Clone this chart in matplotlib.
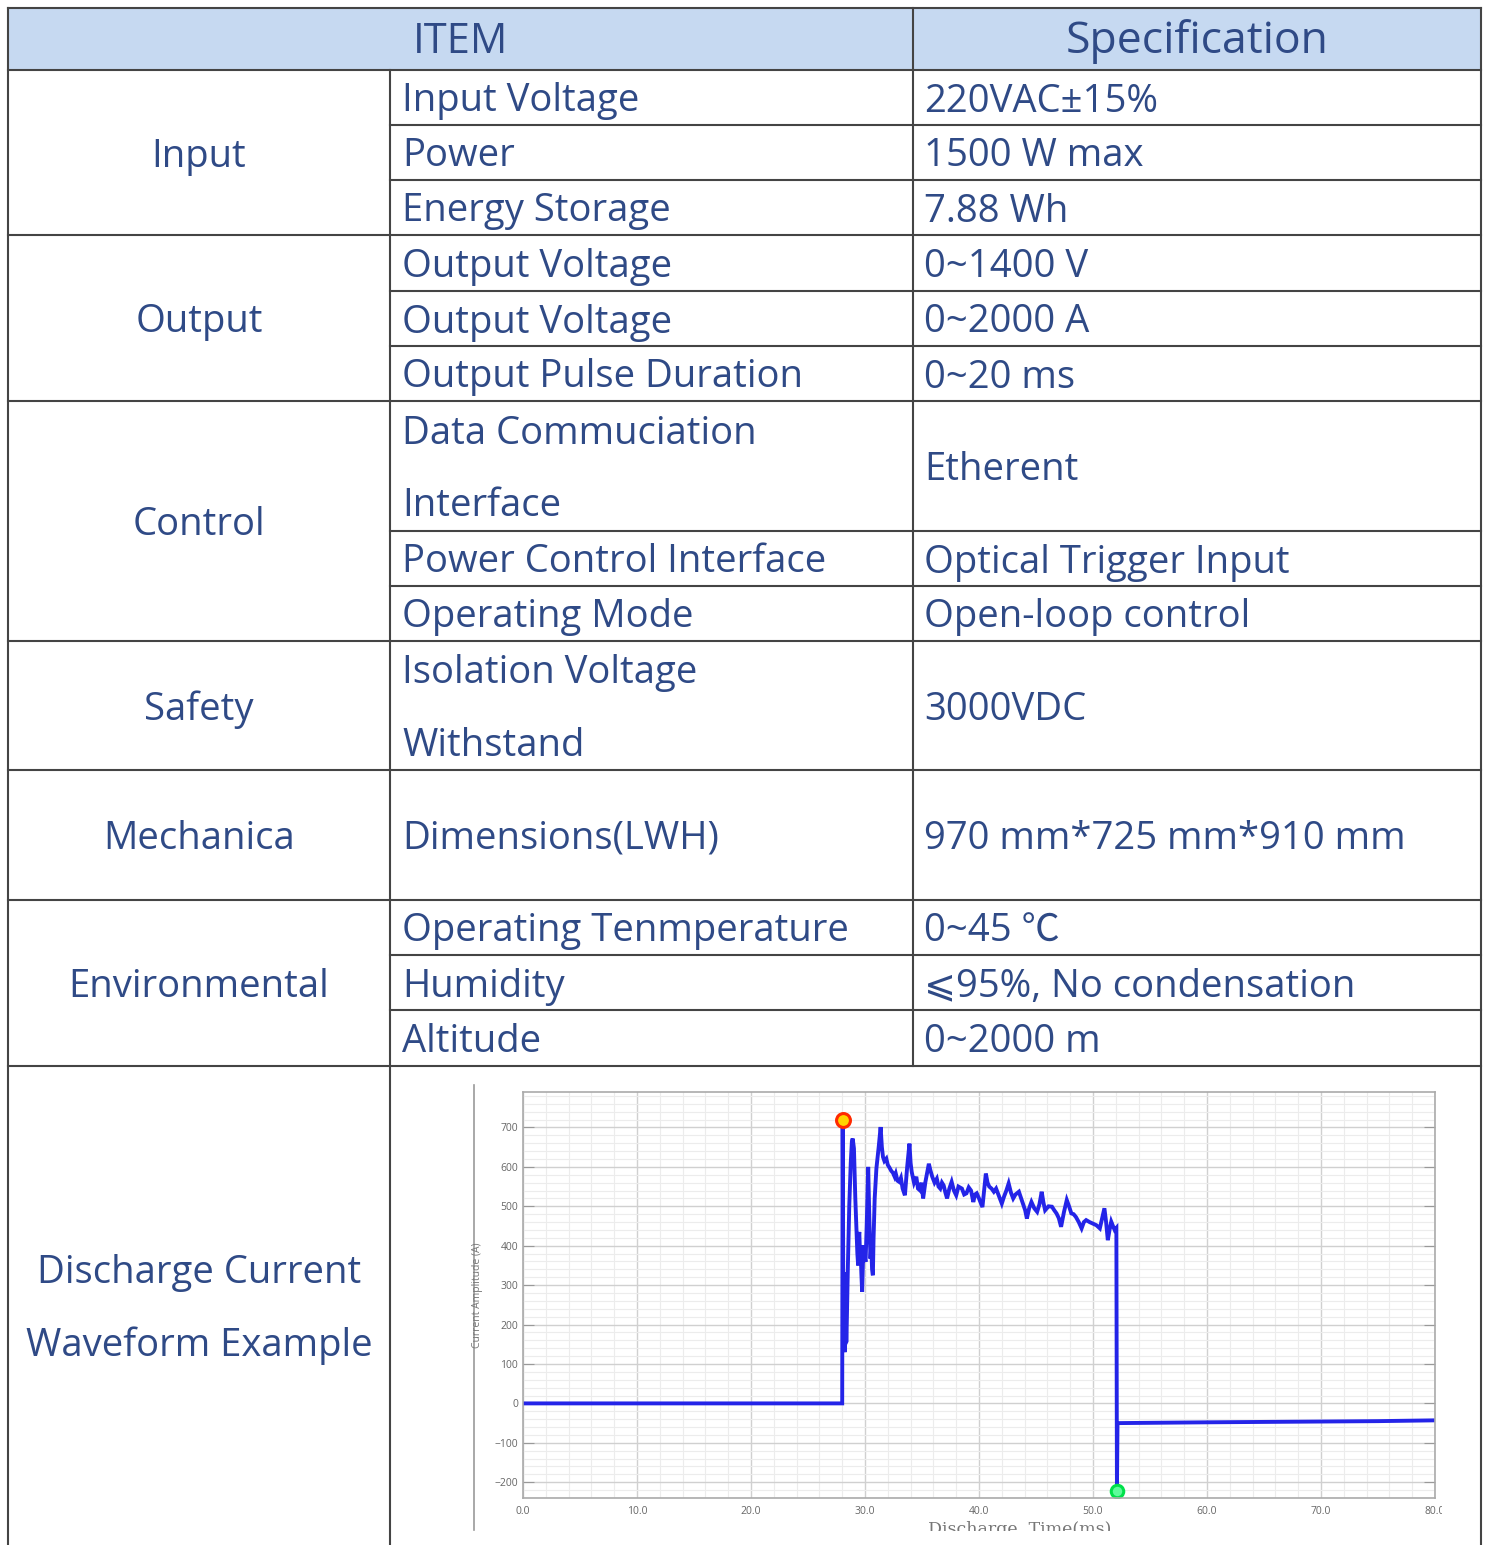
import matplotlib.pyplot as plt
from matplotlib.patches import Rectangle
from matplotlib.ticker import MultipleLocator

plt.rcParams['font.family'] = ['Open Sans', 'Noto Sans CJK SC', 'DejaVu Sans']

# ---- table content ----
header = ["ITEM", "Specification"]
groups = ["Input", "Output", "Control", "Safety", "Mechanica", "Environmental",
          "Discharge Current\nWaveform Example"]
group_sizes = [3, 3, 3, 1, 1, 3]
items = ["Input Voltage", "Power", "Energy Storage",
         "Output Voltage", "Output Voltage", "Output Pulse Duration",
         "Data Commuciation\nInterface", "Power Control Interface", "Operating Mode",
         "Isolation Voltage\nWithstand",
         "Dimensions(LWH)",
         "Operating Tenmperature", "Humidity", "Altitude"]
specs = ["220VAC±15%", "1500 W max", "7.88 Wh",
         "0~1400 V", "0~2000 A", "0~20 ms",
         "Etherent", "Optical Trigger Input", "Open-loop control",
         "3000VDC",
         "970 mm*725 mm*910 mm",
         "0~45 ℃", "⩽95%, No condensation", "0~2000 m"]

# ---- waveform ----
t_ms = [0.0, 28.0,
        28.04, 28.08, 28.1, 28.13, 28.16, 28.19, 28.22, 28.25, 28.28, 28.32, 28.36, 28.4,
        28.5, 28.62, 28.75, 28.85, 28.92, 29.03, 29.15, 29.26, 29.33, 29.4, 29.45, 29.5,
        29.55, 29.6, 29.68, 29.75, 29.82, 29.9, 29.97, 30.05, 30.15, 30.28, 30.38, 30.48,
        30.55, 30.62, 30.69, 30.75, 30.85, 31.0, 31.2, 31.37, 31.48, 31.58, 31.7, 31.87,
        32.0, 32.15, 32.3, 32.45, 32.6, 32.7, 32.85, 33.0, 33.15, 33.3, 33.5, 33.7, 33.9,
        34.0, 34.1, 34.3, 34.5, 34.65, 34.8, 34.95, 35.1, 35.3, 35.45, 35.6, 35.75, 35.9,
        36.1, 36.3, 36.45, 36.6, 36.75, 36.9, 37.05, 37.2, 37.4, 37.6, 37.8, 38.0, 38.2,
        38.5, 38.7, 38.9, 39.1, 39.3, 39.5, 39.65, 39.8, 40.0, 40.3, 40.45, 40.6, 40.75,
        40.9, 41.1, 41.3, 41.5, 41.7, 42.0, 42.2, 42.4, 42.6, 42.8, 43.0, 43.2, 43.5,
        43.7, 43.9, 44.05, 44.2, 44.4, 44.6, 44.85, 45.1, 45.3, 45.5, 45.65, 45.8, 46.1,
        46.4, 46.6, 46.8, 47.0, 47.2, 47.45, 47.7, 47.9, 48.1, 48.3, 48.5, 48.75, 49.0,
        49.2, 49.4, 49.7, 50.0, 50.3, 50.6, 50.8, 51.0, 51.15, 51.3, 51.45, 51.6, 51.75,
        51.9, 52.05, 52.1, 52.15, 56.0, 60.0, 65.0, 70.0, 75.0, 80.0]
current_a = [0, 0,
             718, 420, 150, 333, 140, 280, 130, 240, 150, 223, 155, 200,
             350, 502, 610, 665, 672, 647, 520, 435, 380, 350, 420, 435,
             390, 401, 330, 283, 360, 401, 370, 359, 450, 600, 470, 367,
             400, 340, 325, 418, 520, 596, 650, 701, 650, 625, 615, 621,
             605, 598, 590, 585, 575, 583, 565, 562, 572, 545, 528, 600, 659,
             610, 587, 560, 575, 545, 541, 560, 520, 562, 585, 608, 590, 575,
             560, 570, 550, 545, 560, 553, 535, 520, 545, 562, 540, 528, 550,
             545, 530, 533, 548, 540, 511, 530, 533, 520, 498, 540, 583, 560,
             550, 545, 537, 545, 530, 507, 525, 540, 558, 535, 520, 530, 537,
             520, 503, 490, 469, 495, 511, 495, 486, 505, 537, 510, 490, 500,
             499, 490, 482, 470, 448, 485, 516, 500, 482, 480, 473, 460, 444,
             460, 465, 460, 456, 452, 444, 470, 495, 460, 414, 440, 461, 450,
             440, 445, -221, -50, -49, -48, -47, -46, -45, -43]
peak_pt = (28.04, 718)
min_pt = (52.1, -221)

W, H = 1486, 1545
fig = plt.figure(figsize=(W / 100, H / 100), dpi=100)

tab = fig.add_axes([0, 0, 1, 1])
tab.set_xlim(0, W)
tab.set_ylim(H, 0)
tab.axis('off')

txt_col = '#2f4a86'
line_col = '#444444'
fs = 27.5
dy = 4   # text sits a little below the cell centre

x0, x1, x2, x3 = 8, 390, 913, 1481
y_top, y_head = 8, 70
row_h = [55, 55, 55, 56, 55, 55, 130, 55, 55, 129, 130, 55, 55, 56]
last_bottom = H

tab.add_patch(Rectangle((x0, y_top), x3 - x0, y_head - y_top, facecolor='#c6d9f1',
                        edgecolor='none'))
tab.text((x0 + x2) / 2, 42, header[0], ha='center', va='center', fontsize=30, color=txt_col)
tab.text((x2 + x3) / 2, 42, header[1], ha='center', va='center', fontsize=32, color=txt_col)

# row boundaries
bounds = [y_head]
for h in row_h:
    bounds.append(bounds[-1] + h)

def put_lines(x, yc, s, ha):
    parts = s.split("\n")
    gap = 73
    for k, p in enumerate(parts):
        yy = yc + dy + (k - (len(parts) - 1) / 2) * gap
        tab.text(x, yy, p, ha=ha, va='center', fontsize=fs, color=txt_col)

for i, (it, sp) in enumerate(zip(items, specs)):
    yc = (bounds[i] + bounds[i + 1]) / 2
    put_lines(x1 + 12, yc, it, 'left')
    put_lines(x2 + 11, yc, sp, 'left')

# group cells and lines
start = 0
group_bounds = [y_head]
for g in group_sizes:
    start += g
    group_bounds.append(bounds[start])
group_bounds.append(last_bottom)
for j, name in enumerate(groups):
    yc = (group_bounds[j] + group_bounds[j + 1]) / 2
    put_lines((x0 + x1) / 2, yc, name, 'center')

lw = 1.5
tab.plot([x0, x3], [y_top, y_top], color=line_col, lw=lw)
for yb in bounds:
    if yb in group_bounds:
        tab.plot([x0, x3], [yb, yb], color=line_col, lw=lw)
    else:
        tab.plot([x1, x3], [yb, yb], color=line_col, lw=lw)
tab.plot([x0, x0], [y_top, H], color=line_col, lw=lw)
tab.plot([x1, x1], [y_head, H], color=line_col, lw=lw)
tab.plot([x2, x2], [y_top, bounds[-1]], color=line_col, lw=lw)
tab.plot([x3, x3], [y_top, H], color=line_col, lw=lw)
# frame edge of the pasted scope picture
tab.plot([474, 474], [1085, 1530], color='#9a9a9a', lw=1.2)

# ---- waveform chart ----
ax = fig.add_axes([523 / W, 1 - 1498 / H, (1435 - 523) / W, (1498 - 1092) / H])
ax.plot(t_ms, current_a, color='#2424e8', lw=2.8, solid_joinstyle='miter')
ax.plot(*peak_pt, 'o', ms=10, mfc='#ffd400', mec='#ff2a00', mew=2.2)
ax.plot(*min_pt, 'o', ms=9, mfc='#5dfc9a', mec='#00e04a', mew=2.2)
ax.set_xlim(0, 80)
ax.set_ylim(-240, 790)
ax.xaxis.set_minor_locator(MultipleLocator(2))
ax.yaxis.set_minor_locator(MultipleLocator(20))
ax.set_xticks(range(0, 81, 10))
ax.set_xticklabels([f"{v:.1f}" for v in range(0, 81, 10)])
ax.set_yticks(range(-200, 701, 100))
ax.grid(which='major', color='#d0d0d0', lw=1.0)
ax.grid(which='minor', color='#ececec', lw=0.8)
ax.tick_params(axis='y', which='major', direction='in', length=8, right=True,
               labelsize=7.5, labelcolor='#666666', color='#999999')
ax.tick_params(axis='x', which='major', length=0, labelsize=7.5, labelcolor='#666666', pad=6)
ax.tick_params(which='minor', length=0)
for s in ax.spines.values():
    s.set_color('#aaaaaa')
    s.set_linewidth(1.2)
ax.set_ylabel("Current Amplitude (A)", fontsize=7.5, color='#777777', labelpad=8)
ax.set_xlabel("Discharge  Time(ms)", fontsize=12.5, color='#777777', family='serif')
ax.xaxis.set_label_coords((1020 - 523) / (1435 - 523), -(1529 - 1498) / (1498 - 1092))
ax.xaxis.label.set_va('center')

# the scope picture is cut off just under its axis title and after "80."
for rx, ry, rw, rh in [(476, 1531, 1000, 20), (1442, 1500, 36, 31)]:
    fig.add_artist(Rectangle((rx / W, 1 - (ry + rh) / H), rw / W, rh / H,
                             transform=fig.transFigure, facecolor='white',
                             edgecolor='none', zorder=10))

fig.savefig("out.png", dpi=100)
